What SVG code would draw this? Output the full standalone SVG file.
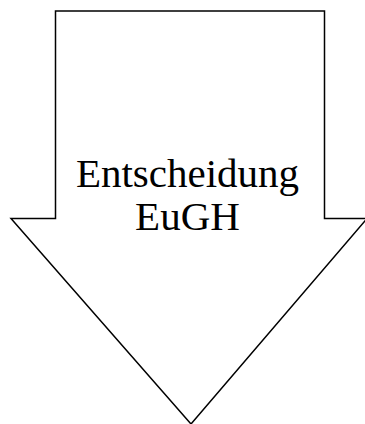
<svg xmlns="http://www.w3.org/2000/svg" width="365" height="424" viewBox="0 0 365 424">
<style>
.shape{fill:#fff;stroke:#000;stroke-width:1.5;stroke-linejoin:miter}
.lbl{font-family:"Liberation Serif","Times New Roman",serif;font-size:41px;fill:#000;text-anchor:middle}
</style>
<rect width="365" height="424" fill="#fff"/>
<g id="arrow">
<polygon class="shape" points="55.5,11 324.5,11 324.5,218.5 367,218.5 191,424 11,218.5 55.5,218.5"/>
<text class="lbl" x="187.5" y="187">Entscheidung</text>
<text class="lbl" x="187.5" y="230">EuGH</text>
</g>
</svg>
